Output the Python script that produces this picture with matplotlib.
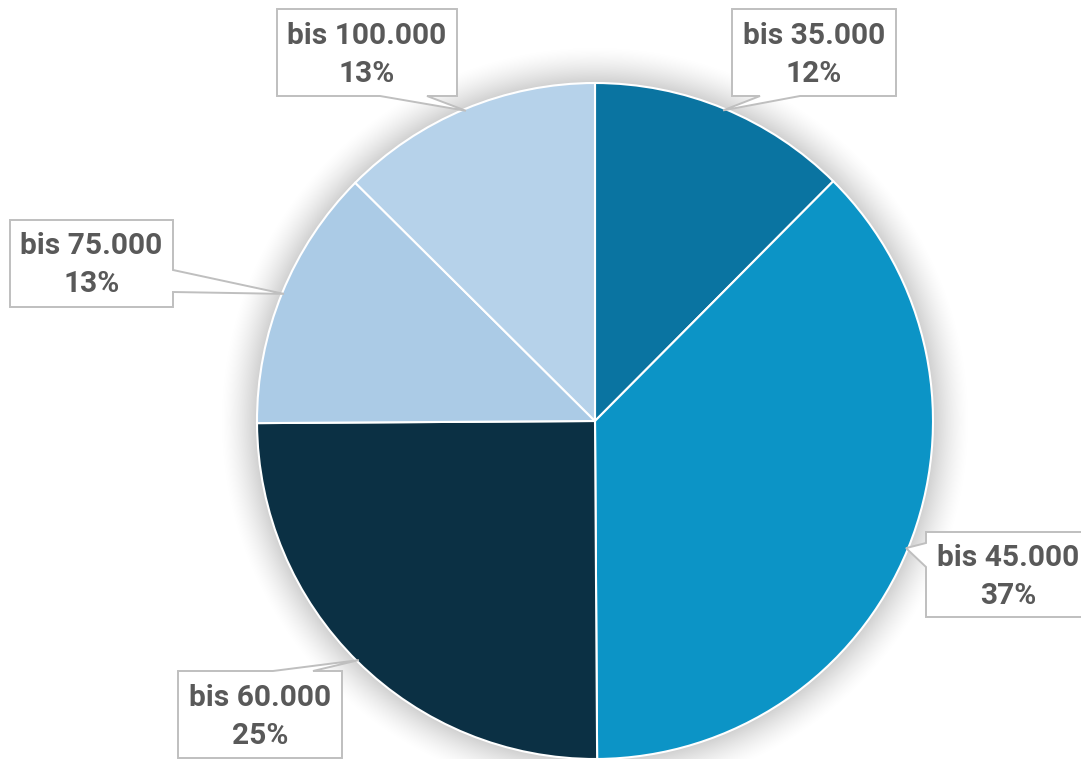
import numpy as np
import matplotlib
matplotlib.use("Agg")
import matplotlib.pyplot as plt
from matplotlib.patches import Polygon

# --- Daten ---
kategorien = ["bis 35.000", "bis 45.000", "bis 60.000", "bis 75.000", "bis 100.000"]
anteile = [12.45, 37.45, 25.0, 12.55, 12.55]   # Prozent
farben = ["#0A74A1", "#0C94C6", "#0B3044", "#ABCBE6", "#B6D2EA"]

W, H = 1081, 759
cx, cy, r = 595, 421, 338   # Bildkoordinaten (y nach unten)

fig = plt.figure(figsize=(W / 100, H / 100), dpi=100)
ax = fig.add_axes([0, 0, 1, 1])

# --- Schatten ---
yy, xx = np.mgrid[0:H, 0:W]
d = np.hypot(xx + 0.5 - cx, yy + 0.5 - (H - cy))
t = np.clip((d - r + 4) / 42, 0, 1)
alpha = 0.22 * (1 - t) ** 1.5
shadow = np.zeros((H, W, 4))
shadow[..., 3] = alpha
ax.imshow(shadow, extent=(0, W, 0, H), origin="lower", zorder=0, interpolation="bilinear")

wedges, _ = ax.pie(anteile, colors=farben, startangle=90, counterclock=False,
                   center=(cx, H - cy), radius=r,
                   wedgeprops=dict(edgecolor="white", linewidth=1.5))
for w in wedges:
    w.set_zorder(2)

ax.set_xlim(0, W)
ax.set_ylim(0, H)
ax.set_aspect("equal")
ax.axis("off")

# --- Beschriftungen (Callouts) ---
# Box in Bildkoordinaten: x0, y0, x1, y1, Seite, Keil-Anfang, Keil-Ende
boxen = [
    (732, 9, 896, 96, "bottom", 760, 800),
    (926, 532, 1090, 617, "left", 543, 567),
    (178, 671, 342, 758, "top", 273, 313),
    (10, 220, 173, 307, "right", 270, 292),
    (277, 9, 457, 96, "bottom", 380, 427),
]

def fy(y):
    return H - y

for w, name, p, (x0, y0, x1, y1, seite, a, b) in zip(wedges, kategorien, anteile, boxen):
    mid = np.deg2rad((w.theta1 + w.theta2) / 2)
    tip = (cx + (r - 2) * np.cos(mid), H - cy + (r - 2) * np.sin(mid))
    tl, tr, br, bl = (x0, fy(y0)), (x1, fy(y0)), (x1, fy(y1)), (x0, fy(y1))
    if seite == "top":
        pts = [tl, (a, fy(y0)), tip, (b, fy(y0)), tr, br, bl]
    elif seite == "right":
        pts = [tl, tr, (x1, fy(a)), tip, (x1, fy(b)), br, bl]
    elif seite == "bottom":
        pts = [tl, tr, br, (b, fy(y1)), tip, (a, fy(y1)), bl]
    else:
        pts = [tl, tr, br, bl, (x0, fy(b)), tip, (x0, fy(a))]
    ax.add_patch(Polygon(pts, closed=True, facecolor="white", edgecolor="#BFBFBF",
                         linewidth=1.4, zorder=3))
    xm = (x0 + x1) / 2
    ym = (y0 + y1) / 2 + 2
    ax.text(xm, fy(ym - 19), name, ha="center", va="center", fontsize=21.5,
            fontweight="bold", family="Roboto", color="#595959", zorder=4)
    ax.text(xm, fy(ym + 19), f"{p:.0f}%", ha="center", va="center", fontsize=21.5,
            fontweight="bold", family="Roboto", color="#595959", zorder=4)

fig.savefig("out.png", dpi=100)
